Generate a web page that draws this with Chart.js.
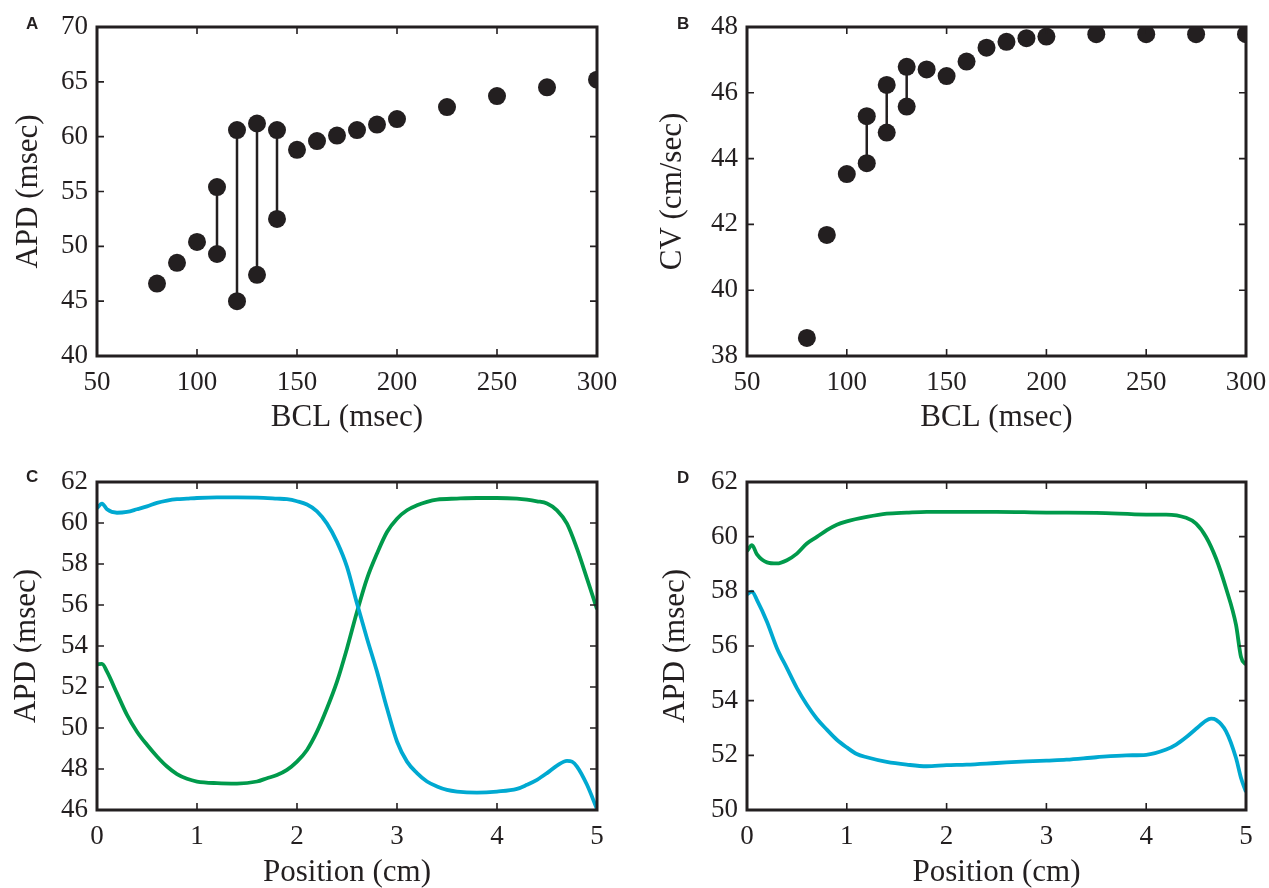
<!DOCTYPE html>
<html>
<head>
<meta charset="utf-8">
<script src="https://cdn.jsdelivr.net/npm/chart.js@4.4.1/dist/chart.umd.min.js"></script>
<style>
  body { margin: 0; background: #fff; }
  #wrap { position: relative; width: 1269px; height: 888px; }
  canvas { position: absolute; }
  .tag { position: absolute; font: bold 17px "Liberation Sans", Arial, sans-serif; line-height: 1; color: #231f20; }
</style>
</head>
<body>
<div id="wrap">
  <canvas id="chartA" width="634" height="440" style="left:0;top:0"></canvas>
  <canvas id="chartB" width="635" height="440" style="left:634px;top:0"></canvas>
  <canvas id="chartC" width="634" height="448" style="left:0;top:440px"></canvas>
  <canvas id="chartD" width="635" height="448" style="left:634px;top:440px"></canvas>
  <div class="tag" style="left:26px;top:15px">A</div>
  <div class="tag" style="left:677px;top:15px">B</div>
  <div class="tag" style="left:26px;top:468px">C</div>
  <div class="tag" style="left:677px;top:469px">D</div>
</div>
<script>
// restitution data (A, B)
const bcl = [80, 90, 100, 110, 120, 130, 140, 150, 160, 170, 180, 190, 200, 225, 250, 275, 300];
const apdHi = [46.6, 48.5, 50.4, 55.4, 60.6, 61.2, 60.6, 58.8, 59.6, 60.1, 60.6, 61.1, 61.6, 62.7, 63.7, 64.5, 65.2];
const apdLo = [null, null, null, 49.3, 45.0, 47.4, 52.5, null, null, null, null, null, null, null, null, null, null];
const cvHi = [38.55, 41.68, 43.53, 45.29, 46.24, 46.79, 46.71, 46.51, 46.95, 47.37, 47.55, 47.66, 47.71, 47.78, 47.78, 47.78, 47.78];
const cvLo = [null, null, null, 43.86, 44.79, 45.58, null, null, null, null, null, null, null, null, null, null, null];

// APD vs position (C)
const posCyanC = [0, 0.05, 0.1, 0.2, 0.3, 0.4, 0.5, 0.6, 0.7, 0.8, 0.9, 1.0, 1.2, 1.4, 1.6, 1.8, 1.9,
  2.0, 2.1, 2.2, 2.3, 2.4, 2.5, 2.6, 2.7, 2.8, 2.9, 3.0, 3.1, 3.2, 3.3, 3.4, 3.5, 3.6,
  3.8, 4.0, 4.2, 4.3, 4.4, 4.5, 4.6, 4.7, 4.75, 4.8, 4.9, 5.0];
const cyanC = [60.73, 60.95, 60.67, 60.5, 60.54, 60.67, 60.81, 60.98, 61.09, 61.16, 61.19, 61.22, 61.25, 61.25, 61.24, 61.19, 61.16,
  61.06, 60.9, 60.57, 59.97, 59.08, 57.86, 56.07, 54.37, 52.75, 50.96, 49.34, 48.36, 47.8, 47.39, 47.15, 46.98, 46.9,
  46.85, 46.9, 47.03, 47.23, 47.47, 47.8, 48.17, 48.4, 48.36, 48.12, 47.23, 46.04];
const posGreenC = [0, 0.05, 0.1, 0.2, 0.3, 0.4, 0.5, 0.6, 0.7, 0.8, 0.9, 1.0, 1.2, 1.4, 1.6, 1.7, 1.8, 1.9,
  2.0, 2.1, 2.2, 2.3, 2.4, 2.5, 2.6, 2.7, 2.8, 2.9, 3.0, 3.1, 3.2, 3.3, 3.4,
  3.6, 3.8, 4.0, 4.2, 4.3, 4.4, 4.5, 4.6, 4.7, 4.8, 4.9, 5.0];
const greenC = [53.1, 53.13, 52.75, 51.69, 50.64, 49.82, 49.18, 48.61, 48.12, 47.75, 47.52, 47.39, 47.31, 47.29, 47.39, 47.55, 47.71, 47.96,
  48.36, 48.93, 49.82, 50.96, 52.26, 53.88, 55.67, 57.29, 58.51, 59.56, 60.21, 60.62, 60.86, 61.03, 61.14,
  61.19, 61.22, 61.22, 61.19, 61.14, 61.06, 60.95, 60.62, 59.97, 58.75, 57.29, 55.8];

// APD vs position (D)
const posGreenD = [0, 0.05, 0.1, 0.2, 0.3, 0.4, 0.5, 0.6, 0.7, 0.8, 0.9, 1.0, 1.2, 1.4, 1.6, 1.8, 2.0, 2.5, 3.0, 3.5,
  4.0, 4.2, 4.4, 4.5, 4.6, 4.7, 4.8, 4.9, 4.95, 5.0];
const greenD = [59.47, 59.69, 59.35, 59.06, 59.02, 59.14, 59.38, 59.75, 59.99, 60.24, 60.44, 60.56, 60.72, 60.84, 60.88, 60.91, 60.91, 60.91, 60.88, 60.87,
  60.81, 60.81, 60.69, 60.48, 59.99, 59.2, 58.11, 56.77, 55.6, 55.31];
const posCyanD = [0, 0.05, 0.1, 0.2, 0.3, 0.4, 0.5, 0.6, 0.7, 0.8, 0.9, 1.0, 1.1, 1.2, 1.4, 1.6, 1.8, 2.0, 2.2, 2.5, 2.8,
  3.0, 3.2, 3.5, 3.8, 4.0, 4.2, 4.3, 4.4, 4.5, 4.6, 4.65, 4.7, 4.8, 4.9, 4.95, 5.0];
const cyanD = [57.89, 57.99, 57.68, 56.89, 55.92, 55.19, 54.46, 53.85, 53.34, 52.94, 52.57, 52.29, 52.05, 51.93, 51.76, 51.66, 51.6, 51.64, 51.66, 51.72, 51.78,
  51.81, 51.84, 51.93, 52.0, 52.02, 52.21, 52.39, 52.66, 52.97, 53.27, 53.34, 53.3, 52.88, 51.9, 51.17, 50.66];

const INK = "#231f20";
const CYAN = "#00a9d1";
const GREEN = "#009a4b";
const SERIF = "'Liberation Serif', 'Times New Roman', serif";

// box with inward ticks on all four sides
const framePlugin = {
  id: "frame",
  afterDatasetsDraw(chart) {
    const { ctx, chartArea: a, scales } = chart;
    ctx.save();
    ctx.strokeStyle = INK;
    ctx.lineWidth = 1.6;
    ctx.beginPath();
    scales.x.ticks.forEach(t => {
      const px = scales.x.getPixelForValue(t.value);
      ctx.moveTo(px, a.bottom); ctx.lineTo(px, a.bottom - 7);
      ctx.moveTo(px, a.top); ctx.lineTo(px, a.top + 7);
    });
    scales.y.ticks.forEach(t => {
      const py = scales.y.getPixelForValue(t.value);
      ctx.moveTo(a.left, py); ctx.lineTo(a.left + 7, py);
      ctx.moveTo(a.right, py); ctx.lineTo(a.right - 7, py);
    });
    ctx.stroke();
    ctx.lineWidth = 3;
    ctx.strokeRect(a.left, a.top, a.right - a.left, a.bottom - a.top);
    ctx.restore();
  }
};

function toPoints(xs, ys) {
  return xs.map((x, i) => ({ x: x, y: ys[i] }));
}

function makePanel(id, p) {
  new Chart(document.getElementById(id), {
    type: "scatter",
    data: { datasets: p.datasets },
    options: {
      responsive: false,
      animation: false,
      layout: { padding: { top: p.top, right: p.right, left: 0, bottom: 0 } },
      plugins: { legend: { display: false }, tooltip: { enabled: false } },
      scales: {
        x: {
          min: p.xMin, max: p.xMax,
          grid: { display: false, drawTicks: false },
          border: { display: false },
          ticks: { stepSize: p.xStep, padding: 11, color: INK, font: { family: SERIF, size: 27 } },
          title: { display: true, text: p.xTitle, color: INK, padding: { top: 0, bottom: p.xTitlePad },
            font: { family: SERIF, size: 31, lineHeight: 1 } },
          afterFit: s => { s.height = p.xHeight; s.paddingLeft = 0; s.paddingRight = 0; }
        },
        y: {
          min: p.yMin, max: p.yMax,
          grid: { display: false, drawTicks: false },
          border: { display: false },
          ticks: { stepSize: p.yStep, padding: 9, color: INK, font: { family: SERIF, size: 27 } },
          title: { display: true, text: p.yTitle, color: INK, padding: { top: p.yTitlePad, bottom: 0 },
            font: { family: SERIF, size: 31, lineHeight: 1 } },
          afterFit: s => { s.width = p.yWidth; s.paddingTop = 0; s.paddingBottom = 0; }
        }
      }
    },
    plugins: [framePlugin]
  });
}

function restitutionSets(hi, lo) {
  const pts = [];
  const bars = [];
  bcl.forEach((b, i) => {
    pts.push({ x: b, y: hi[i] });
    if (lo[i] !== null) {
      pts.push({ x: b, y: lo[i] });
      bars.push({ x: b, y: hi[i] }, { x: b, y: lo[i] }, { x: b, y: null });
    }
  });
  return [
    { data: pts, pointRadius: 9, pointBackgroundColor: INK, pointBorderWidth: 0, showLine: false, clip: 0 },
    { data: bars, showLine: true, spanGaps: false, borderColor: INK, borderWidth: 2.5, pointRadius: 0, clip: 0 }
  ];
}

function profileSet(xs, ys, color) {
  return { data: toPoints(xs, ys), showLine: true, borderColor: color, borderWidth: 3.8,
    pointRadius: 0, cubicInterpolationMode: "monotone", clip: 0 };
}

makePanel("chartA", {
  datasets: restitutionSets(apdHi, apdLo),
  xMin: 50, xMax: 300, xStep: 50, yMin: 40, yMax: 70, yStep: 5,
  xTitle: "BCL (msec)", yTitle: "APD (msec)",
  top: 27, right: 37, yWidth: 97, xHeight: 84, xTitlePad: 7, yTitlePad: 13
});

makePanel("chartB", {
  datasets: restitutionSets(cvHi, cvLo),
  xMin: 50, xMax: 300, xStep: 50, yMin: 38, yMax: 48, yStep: 2,
  xTitle: "BCL (msec)", yTitle: "CV (cm/sec)",
  top: 27, right: 23, yWidth: 113, xHeight: 84, xTitlePad: 7, yTitlePad: 23
});

makePanel("chartC", {
  datasets: [profileSet(posCyanC, cyanC, CYAN), profileSet(posGreenC, greenC, GREEN)],
  xMin: 0, xMax: 5, xStep: 1, yMin: 46, yMax: 62, yStep: 2,
  xTitle: "Position (cm)", yTitle: "APD (msec)",
  top: 42, right: 37, yWidth: 97, xHeight: 78, xTitlePad: 0, yTitlePad: 11
});

makePanel("chartD", {
  datasets: [profileSet(posCyanD, cyanD, CYAN), profileSet(posGreenD, greenD, GREEN)],
  xMin: 0, xMax: 5, xStep: 1, yMin: 50, yMax: 62, yStep: 2,
  xTitle: "Position (cm)", yTitle: "APD (msec)",
  top: 42, right: 23, yWidth: 113, xHeight: 78, xTitlePad: 0, yTitlePad: 26
});
</script>
</body>
</html>
